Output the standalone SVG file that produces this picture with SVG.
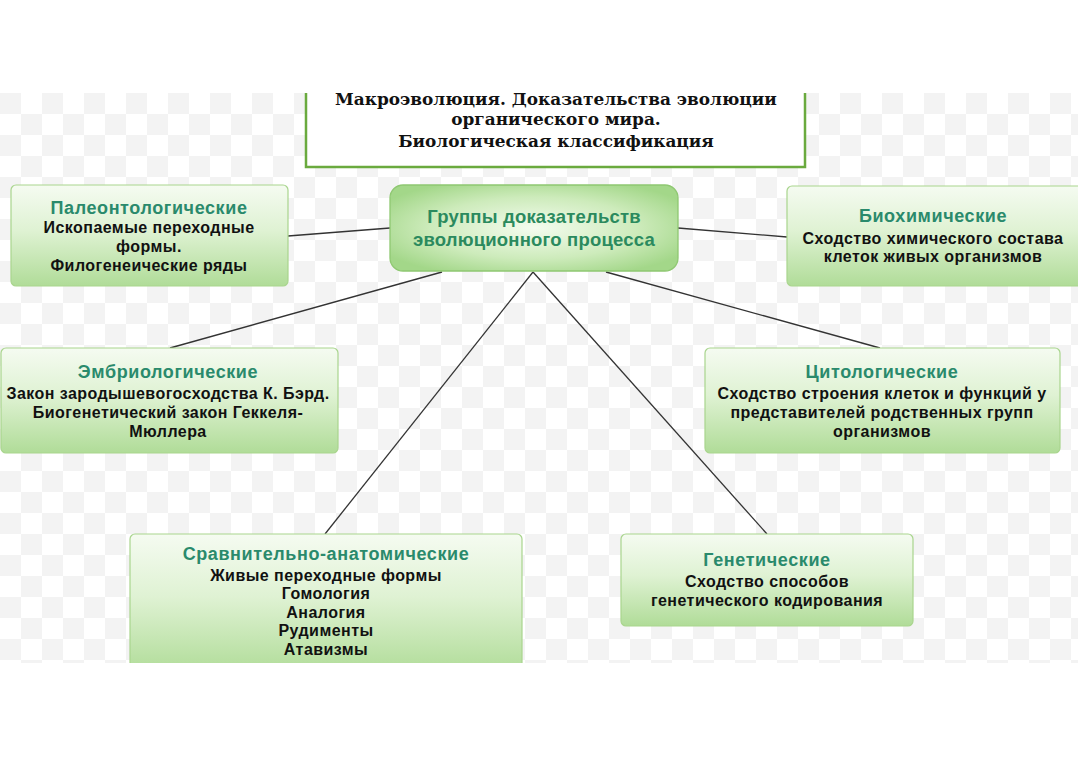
<svg xmlns="http://www.w3.org/2000/svg" width="1078" height="776" viewBox="0 0 1078 776">
<defs>
<pattern id="chk" patternUnits="userSpaceOnUse" x="0" y="93" width="42" height="42">
<rect width="42" height="42" fill="#ffffff"/>
<rect x="0" y="0" width="21" height="21" fill="#f3f3f3"/>
<rect x="21" y="21" width="21" height="21" fill="#f3f3f3"/>
</pattern>
<linearGradient id="g" x1="0" y1="0" x2="0" y2="1">
<stop offset="0" stop-color="#f5fbf1"/>
<stop offset="0.45" stop-color="#dff2d3"/>
<stop offset="1" stop-color="#b0dc98"/>
</linearGradient>
<radialGradient id="gc" cx="0.5" cy="0.5" r="0.6">
<stop offset="0" stop-color="#f4fcef"/>
<stop offset="0.6" stop-color="#cdebbb"/>
<stop offset="1" stop-color="#a3d789"/>
</radialGradient>
<clipPath id="cut"><rect x="0" y="93" width="1078" height="570"/></clipPath>
<style>
.box{fill:url(#g);stroke:#a9d58e;stroke-width:1.2}
.ttl{font-family:"Liberation Sans",Arial,sans-serif;font-weight:bold;font-size:18px;letter-spacing:0.6px;fill:#2a8a6c;text-anchor:middle}
.txt{font-family:"Liberation Sans",Arial,sans-serif;font-weight:bold;font-size:16px;letter-spacing:0.45px;fill:#111;text-anchor:middle}
.ctr{font-family:"Liberation Sans",Arial,sans-serif;font-weight:bold;font-size:18.5px;letter-spacing:0.2px;fill:#2b8a5e;text-anchor:middle}
.hdr{font-family:"DejaVu Serif","Liberation Serif",serif;font-weight:bold;font-size:16.9px;fill:#111;text-anchor:middle}
.con{stroke:#333;stroke-width:1.3;fill:none}
</style>
</defs>
<rect width="1078" height="776" fill="#ffffff"/>
<rect x="0" y="93" width="1078" height="570" fill="url(#chk)"/>
<g clip-path="url(#cut)">
<g id="connectors">
<line class="con" x1="390" y1="228" x2="288" y2="236"/>
<line class="con" x1="678" y1="228" x2="787" y2="237"/>
<line class="con" x1="442" y1="272" x2="170" y2="348"/>
<line class="con" x1="533" y1="272" x2="325" y2="534"/>
<line class="con" x1="533" y1="272" x2="767" y2="534"/>
<line class="con" x1="606" y1="272" x2="880" y2="348"/>
</g>
<g id="header">
<rect x="306" y="80" width="499" height="87" fill="#ffffff" stroke="#6aaa3e" stroke-width="2.5"/>
<text class="hdr" x="556" y="105">Макроэволюция. Доказательства эволюции</text>
<text class="hdr" x="556" y="125">органического мира.</text>
<text class="hdr" x="556" y="147">Биологическая классификация</text>
</g>
<g id="center">
<rect x="390" y="185" width="288" height="86" rx="13" fill="url(#gc)" stroke="#8fc872" stroke-width="1.3"/>
<text class="ctr" x="534" y="223">Группы доказательств</text>
<text class="ctr" x="534" y="246">эволюционного процесса</text>
</g>
<g id="paleo">
<rect class="box" x="11" y="185" width="277" height="101" rx="5"/>
<text class="ttl" x="149" y="214">Палеонтологические</text>
<text class="txt" x="149" y="233">Ископаемые переходные</text>
<text class="txt" x="149" y="252">формы.</text>
<text class="txt" x="149" y="271">Филогенеические ряды</text>
</g>
<g id="biochem">
<rect class="box" x="787" y="186" width="300" height="100" rx="5"/>
<text class="ttl" x="933" y="222">Биохимические</text>
<text class="txt" x="933" y="244">Сходство химического состава</text>
<text class="txt" x="933" y="262">клеток живых организмов</text>
</g>
<g id="embryo">
<rect class="box" x="1" y="348" width="337" height="105" rx="5"/>
<text class="ttl" x="168" y="378">Эмбриологические</text>
<text class="txt" x="168" y="399">Закон зародышевогосходства К. Бэрд.</text>
<text class="txt" x="168" y="418">Биогенетический закон Геккеля-</text>
<text class="txt" x="168" y="437">Мюллера</text>
</g>
<g id="cyto">
<rect class="box" x="705" y="348" width="355" height="105" rx="5"/>
<text class="ttl" x="882" y="378">Цитологические</text>
<text class="txt" x="882" y="399">Сходство строения клеток и функций у</text>
<text class="txt" x="882" y="418">представителей родственных групп</text>
<text class="txt" x="882" y="437">организмов</text>
</g>
<g id="compar">
<rect class="box" x="130" y="534" width="392" height="140" rx="5"/>
<text class="ttl" x="326" y="560">Сравнительно-анатомические</text>
<text class="txt" x="326" y="581">Живые переходные формы</text>
<text class="txt" x="326" y="599">Гомология</text>
<text class="txt" x="326" y="618">Аналогия</text>
<text class="txt" x="326" y="636">Рудименты</text>
<text class="txt" x="326" y="655">Атавизмы</text>
</g>
<g id="genetic">
<rect class="box" x="621" y="534" width="292" height="92" rx="5"/>
<text class="ttl" x="767" y="566">Генетические</text>
<text class="txt" x="767" y="587">Сходство способов</text>
<text class="txt" x="767" y="606">генетического кодирования</text>
</g>
</g>
</svg>
